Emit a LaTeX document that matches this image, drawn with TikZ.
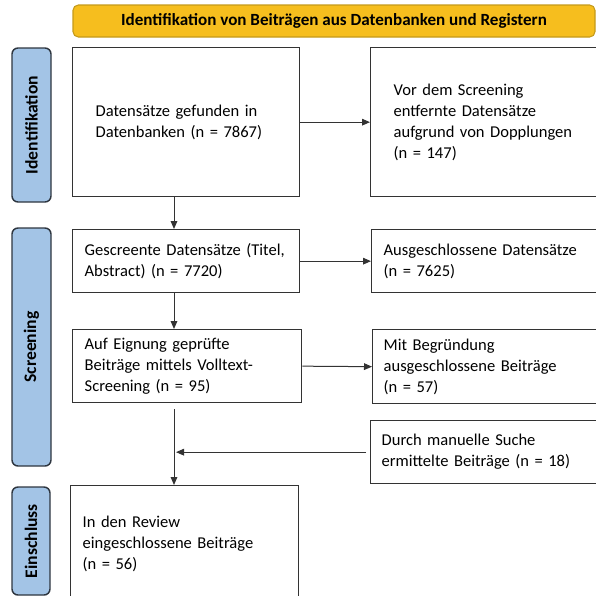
\documentclass[tikz,border=0pt]{standalone}
\usepackage{fontspec}
\setmainfont{Carlito}
\usetikzlibrary{arrows.meta}
\definecolor{hdrfill}{HTML}{F6BE1E}
\definecolor{hdrdraw}{HTML}{C49A1A}
\definecolor{sidefill}{HTML}{A3C4E6}
\definecolor{sidedraw}{HTML}{2E3640}
\definecolor{boxc}{HTML}{333333}
\newcommand\bodyfont{\fontsize{12.4}{15.75}\selectfont}
\newcommand\hdrfont{\fontsize{12.8}{15.75}\selectfont\bfseries}
\newcommand\sidefont{\fontsize{13.2}{15.75}\selectfont\bfseries}
\newcommand\lbl[1]{\mbox{#1}}
\tikzset{
  pbox/.style={draw=boxc, line width=1pt, anchor=north west, align=left,
    inner ysep=0pt, font=\bodyfont},
  sidebox/.style={draw=sidedraw, fill=sidefill, line width=1.1pt, rounded corners=4.5pt,
    rotate=90, minimum height=29.25pt, inner sep=0pt, font=\sidefont},
  hdr/.style={draw=hdrdraw, fill=hdrfill, line width=0.8pt, rounded corners=4pt,
    minimum width=391.5pt, minimum height=24pt, inner sep=0pt, font=\hdrfont},
  arr/.style={draw=boxc, line width=0.75pt, -{Triangle[length=6pt,width=5pt]}},
}
\begin{document}
\begin{tikzpicture}[x=0.75pt,y=-0.75pt]
\useasboundingbox (0,0) rectangle (596,596);
\clip (0,0) rectangle (596,596);
% header
\node[hdr] (hd) at (334,21) {Identifikation von Beiträgen aus Datenbanken und Registern};
% side labels
\node[sidebox, minimum width=115.5pt] (s1) at (31.5,125) {Identifikation};
\node[sidebox, minimum width=178.5pt] (s2) at (31.5,347) {Screening};
\node[sidebox, minimum width=81pt, minimum height=28.5pt] (s3) at (31,541) {Einschluss};
% boxes
\node[pbox, minimum width=170.25pt, minimum height=111.75pt, inner xsep=17.25pt, text width=135.75pt] (b1) at (72,47)
  {\lbl{Datensätze gefunden in}\\\lbl{Datenbanken (n = 7867)}};
\node[pbox, minimum width=180pt, minimum height=111.75pt, inner xsep=17.25pt, text width=145.5pt] (b2) at (370,47)
  {\lbl{Vor dem Screening}\\\lbl{entfernte Datensätze}\\\lbl{aufgrund von Dopplungen}\\\lbl{(n = 147)}};
\node[pbox, minimum width=170.25pt, minimum height=47.25pt, inner xsep=9pt, text width=152.25pt] (b3) at (72,229)
  {\lbl{Gescreente Datensätze (Titel,}\\\lbl{Abstract) (n = 7720)}};
\node[pbox, minimum width=180pt, minimum height=47.25pt, inner xsep=9pt, text width=162pt] (b4) at (371,229)
  {\lbl{Ausgeschlossene Datensätze}\\\lbl{(n = 7625)}};
\node[pbox, minimum width=171.75pt, minimum height=54.75pt, inner xsep=9pt, text width=153.75pt] (b5) at (72,329)
  {\lbl{Auf Eignung geprüfte}\\\lbl{Beiträge mittels Volltext-}\\\lbl{Screening (n = 95)}};
\node[pbox, minimum width=180pt, minimum height=55.5pt, inner xsep=8.25pt, text width=163.5pt] (b6) at (372,329)
  {\lbl{Mit Begründung}\\\lbl{ausgeschlossene Beiträge}\\\lbl{(n = 57)}};
\node[pbox, minimum width=180pt, minimum height=47.25pt, inner xsep=8.25pt, text width=163.5pt] (b7) at (370,420)
  {\lbl{Durch manuelle Suche}\\\lbl{ermittelte Beiträge (n = 18)}};
\node[pbox, minimum width=171pt, minimum height=87pt, inner xsep=9pt, text width=153pt] (b8) at (70,485)
  {\lbl{In den Review}\\\lbl{eingeschlossene Beiträge}\\\lbl{(n = 56)}};
% connectors
\coordinate (sp) at (174,0);
\coordinate (jn) at (176,0);
\draw[arr] (b1.east) -- (b2.west);
\draw[arr] (b3.east) -- (b4.west);
\draw[arr] (b5.east) -- (b6.west);
\draw[arr] (b1.south -| sp) -- (b3.north -| sp);
\draw[arr] (b3.south -| sp) -- (b5.north -| sp);
\draw[arr, shorten <=4.5pt] (b5.south -| sp) -- (b8.north -| sp);
\draw[arr, shorten <=3pt] (b7.west) -- (b7.west -| jn);
\end{tikzpicture}
\end{document}
